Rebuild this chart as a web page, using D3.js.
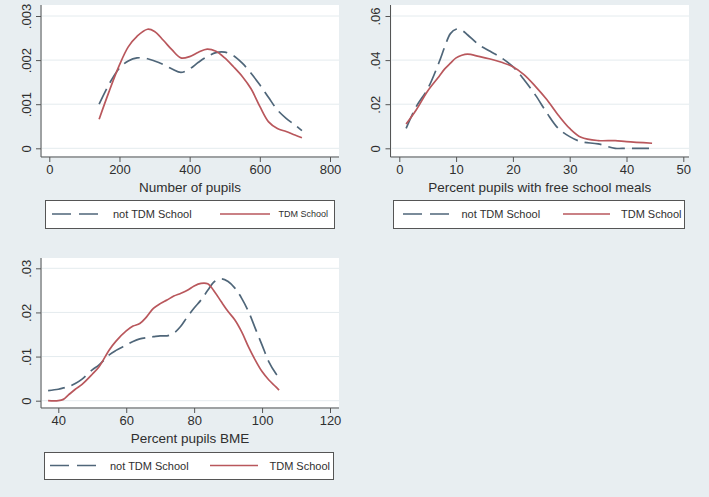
<!DOCTYPE html>
<html><head><meta charset="utf-8">
<script src="https://cdn.jsdelivr.net/npm/d3@7"></script>
<style>
html,body{margin:0;padding:0;background:#e8eef1;}
svg{display:block;}
text{font-family:"Liberation Sans",Arial,sans-serif;fill:#2f2f2f;}
</style></head>
<body><svg id="c" width="709" height="497"></svg>
<script>
// ---------- data ----------
const seriesNames = ["not TDM School", "TDM School"];

const pupilsX = [142,170,200,225,250,280,300,325,350,375,400,425,450,475,500,525,550,575,600,625,650,675,700,720];
const pupilsNot = [0.00100,0.00145,0.00182,0.00198,0.00205,0.00203,0.00198,0.00190,0.00180,0.00172,0.00180,0.00195,0.00208,0.00217,0.00218,0.00210,0.00193,0.00170,0.00144,0.00115,0.00087,0.00068,0.00053,0.00040];
const pupilsTdm = [0.00066,0.00128,0.00189,0.00230,0.00254,0.00270,0.00265,0.00245,0.00223,0.00205,0.00208,0.00218,0.00225,0.00220,0.00205,0.00185,0.00163,0.00135,0.00095,0.00060,0.00045,0.00038,0.00030,0.00024];
const pupilsXTicks = [0,200,400,600,800];
const pupilsYTicks = [0,0.001,0.002,0.003];
const pupilsYLabels = ["0",".001",".002",".003"];

const fsmX = [1.2,3,5,7,8,9,10,11,12,14,16,18,20,22,24,26,28,30,32,35,38,40,44.5];
const fsmNot = [0.009,0.019,0.027,0.039,0.046,0.052,0.054,0.0535,0.0515,0.047,0.044,0.041,0.037,0.031,0.024,0.016,0.009,0.0053,0.003,0.002,0.0,0.0,0.0];
const fsmTdm = [0.011,0.0175,0.026,0.0326,0.036,0.0386,0.041,0.0422,0.0427,0.0417,0.0405,0.039,0.037,0.0333,0.028,0.022,0.015,0.009,0.005,0.0035,0.0035,0.003,0.0023];
const fsmXTicks = [0,10,20,30,40,50];
const fsmYTicks = [0,0.02,0.04,0.06];
const fsmYLabels = ["0",".02",".04",".06"];

const bmeX = [37,40,41.5,43,45,47,50,52,55,57,60,62,64,66,68,70,72,74,76,78,80,82,84,86,88,90,92,94,96,98,100,102,104,105];
const bmeNot = [0.0023,0.0026,0.0029,0.0032,0.0039,0.0049,0.0070,0.0081,0.0104,0.0114,0.0126,0.0134,0.0140,0.0143,0.0145,0.0147,0.0147,0.0153,0.0168,0.0190,0.0210,0.0228,0.0250,0.0270,0.0276,0.0270,0.0255,0.0232,0.0202,0.0164,0.0126,0.0088,0.0062,0.0052];
const bmeTdm = [0.0,0.0,0.0003,0.0013,0.0026,0.0037,0.0060,0.0077,0.0115,0.0135,0.0158,0.0169,0.0175,0.0190,0.0209,0.0220,0.0228,0.0237,0.0243,0.0250,0.0260,0.0266,0.0265,0.0247,0.0224,0.0202,0.0183,0.0156,0.0122,0.0092,0.0066,0.0047,0.0032,0.0024];
const bmeXTicks = [40,60,80,100,120];
const bmeYTicks = [0,0.01,0.02,0.03];
const bmeYLabels = ["0",".01",".02",".03"];

const titles = ["Number of pupils","Percent pupils with free school meals","Percent pupils BME"];

// ---------- drawing ----------
const svg = d3.select("#c");
const colNot = "#4f6679", colTdm = "#b9575c";

const panels = [
  {x:pupilsX, a:pupilsNot, b:pupilsTdm, xt:pupilsXTicks, yt:pupilsYTicks, yl:pupilsYLabels, title:titles[0],
   xd:[0,800], xr:[49.3,330], yd:[0,0.003], yr:[148.3,16], L:41, R:339, T:5, B:157,
   leg:{x0:45,x1:334,y0:200,y1:228, d0:52,d1:98, t0:113, s0:220,s1:270, t1r:328, small:true}},
  {x:fsmX, a:fsmNot, b:fsmTdm, xt:fsmXTicks, yt:fsmYTicks, yl:fsmYLabels, title:titles[1],
   xd:[0,50], xr:[399.3,683.3], yd:[0,0.06], yr:[148.3,16], L:390.5, R:689, T:5, B:157,
   leg:{x0:393,x1:684,y0:200,y1:228, d0:403,d1:449, t0:461.5, s0:563,s1:610, t1r:681.5, small:false}},
  {x:bmeX, a:bmeNot, b:bmeTdm, xt:bmeXTicks, yt:bmeYTicks, yl:bmeYLabels, title:titles[2],
   xd:[40,120], xr:[58.3,330], yd:[0,0.03], yr:[400.7,268.3], L:41, R:339, T:258, B:408,
   leg:{x0:44,x1:333,y0:452,y1:479, d0:50,d1:98, t0:110, s0:210,s1:258, t1r:330, small:false}}
];

panels.forEach(p => {
  const g = svg.append("g");
  const x = d3.scaleLinear().domain(p.xd).range(p.xr);
  const y = d3.scaleLinear().domain(p.yd).range(p.yr);
  // plot region
  g.append("rect").attr("x",p.L+1).attr("y",p.T).attr("width",p.R-p.L-1).attr("height",p.B-p.T-1).attr("fill","#ffffff");
  // grid
  g.selectAll("line.grid").data(p.yt).join("line")
    .attr("x1",p.L+1).attr("x2",p.R).attr("y1",d=>y(d)).attr("y2",d=>y(d))
    .attr("stroke","#e4ebee").attr("stroke-width",1);
  // axes
  const ya = g.append("g").attr("transform",`translate(${p.L},0)`)
    .call(d3.axisLeft(y).tickValues(p.yt).tickFormat((d,i)=>p.yl[i]).tickSize(5).tickPadding(0));
  ya.select(".domain").remove();
  ya.selectAll(".tick line").attr("stroke","#555");
  ya.selectAll(".tick text").attr("x",0).attr("dy",0).attr("text-anchor","middle")
    .attr("transform","translate(-10.5,0) rotate(-90)").attr("font-size",13).attr("fill","#333");
  const xa = g.append("g").attr("transform",`translate(0,${p.B})`)
    .call(d3.axisBottom(x).tickValues(p.xt).tickFormat(d3.format("d")).tickSize(5).tickPadding(3));
  xa.select(".domain").remove();
  xa.selectAll(".tick line").attr("stroke","#555");
  xa.selectAll(".tick text").attr("font-size",13).attr("fill","#333");
  g.append("line").attr("x1",p.L).attr("x2",p.L).attr("y1",p.T).attr("y2",p.B).attr("stroke","#555").attr("stroke-width",1);
  g.append("line").attr("x1",p.L).attr("x2",p.R).attr("y1",p.B).attr("y2",p.B).attr("stroke","#555").attr("stroke-width",1);
  // title
  g.append("text").attr("x",(p.L+p.R)/2).attr("y",p.B+35).attr("text-anchor","middle").attr("font-size",13.5).text(p.title);
  // lines
  const line = d3.line().x((d,i)=>x(p.x[i])).y(d=>y(d)).curve(d3.curveCatmullRom.alpha(0.5));
  g.append("path").datum(p.a).attr("d",line).attr("fill","none").attr("stroke",colNot).attr("stroke-width",1.7).attr("stroke-dasharray","17,7");
  g.append("path").datum(p.b).attr("d",line).attr("fill","none").attr("stroke",colTdm).attr("stroke-width",1.7);
  // legend
  const l = p.leg, cy = (l.y0+l.y1)/2;
  g.append("rect").attr("x",l.x0+0.5).attr("y",l.y0+0.5).attr("width",l.x1-l.x0).attr("height",l.y1-l.y0)
    .attr("fill","#ffffff").attr("stroke","#555").attr("stroke-width",1);
  g.append("line").attr("x1",l.d0).attr("x2",l.d1).attr("y1",cy).attr("y2",cy).attr("stroke",colNot).attr("stroke-width",1.7).attr("stroke-dasharray","19,8");
  g.append("text").attr("x",l.t0).attr("y",cy+4).attr("font-size",11).text(seriesNames[0]);
  g.append("line").attr("x1",l.s0).attr("x2",l.s1).attr("y1",cy).attr("y2",cy).attr("stroke",colTdm).attr("stroke-width",1.7);
  g.append("text").attr("x",l.t1r).attr("y",cy+(l.small?3:4)).attr("text-anchor","end").attr("font-size",l.small?9:11).text(seriesNames[1]);
});
</script></body></html>
